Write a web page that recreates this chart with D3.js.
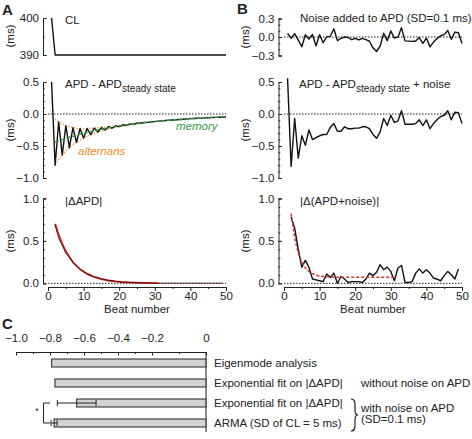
<!DOCTYPE html>
<html><head><meta charset="utf-8">
<script src="https://cdn.jsdelivr.net/npm/d3@7"></script>
<style>
body{margin:0;background:#fff}
text{font-family:"Liberation Sans",Arial,sans-serif;fill:#222}
</style>
</head><body>
<svg id="chart" width="472" height="439"></svg>
<script>
// ---------------- DATA ----------------
const clBeats = [1, 2, 50];
const clValues = [400, 390, 390];

const apdBeats = d3.range(1, 51);
const apdValues = [0.50,-0.800,-0.125,-0.642,-0.183,-0.527,-0.215,-0.441,-0.226,-0.376,
  -0.228,-0.324,-0.221,-0.283,-0.212,-0.250,-0.199,-0.222,-0.186,-0.198,
  -0.172,-0.179,-0.158,-0.161,-0.145,-0.145,-0.133,-0.131,-0.121,-0.119,
  -0.112,-0.107,-0.102,-0.098,-0.093,-0.089,-0.085,-0.081,-0.077,-0.073,
  -0.070,-0.067,-0.064,-0.061,-0.058,-0.055,-0.053,-0.050,-0.048,-0.046];

const memoryBeats = d3.range(2, 51);
const memoryValues = [-0.440,-0.420,-0.400,-0.382,-0.364,-0.348,-0.332,-0.316,-0.302,-0.288,
  -0.275,-0.262,-0.250,-0.239,-0.228,-0.217,-0.207,-0.198,-0.188,-0.180,
  -0.172,-0.164,-0.156,-0.149,-0.142,-0.136,-0.129,-0.123,-0.118,-0.112,
  -0.107,-0.102,-0.098,-0.093,-0.089,-0.085,-0.081,-0.077,-0.073,-0.070,
  -0.067,-0.064,-0.061,-0.058,-0.055,-0.053,-0.050,-0.048,-0.046];

const envBeats = d3.range(2, 27);
const envUpper = [-0.080,-0.125,-0.158,-0.183,-0.201,-0.215,-0.223,-0.226,-0.228,-0.228,
  -0.226,-0.221,-0.217,-0.212,-0.206,-0.199,-0.192,-0.186,-0.178,-0.172,
  -0.165,-0.158,-0.151,-0.145,-0.139];
const envLower = [-0.800,-0.715,-0.642,-0.581,-0.527,-0.481,-0.441,-0.406,-0.376,-0.348,
  -0.324,-0.303,-0.283,-0.266,-0.250,-0.235,-0.222,-0.210,-0.198,-0.188,
  -0.179,-0.170,-0.161,-0.153,-0.145];

const dBeats = d3.range(2, 50);
const dApdValues = [0.69,0.53,0.45,0.35,0.31,0.24,0.21,0.16,0.145,0.11,
  0.10,0.075,0.07,0.05,0.048,0.033,0.033,0.02,0.022,0.013,
  0.015,0.008,0.01,0.005,0.007,0.003,0.005,0.002,0.003,0.001,
  0.001,0.001,0.001,0.001,0.001,0.001,0.001,0.001,0.001,0.001,
  0.001,0.001,0.001,0.001,0.001,0.001,0.001,0.001];

const fitBeats = d3.range(2, 32);
const dApdFit = [0.70,0.57,0.465,0.38,0.31,0.25,0.205,0.167,0.136,0.111,
  0.09,0.074,0.06,0.049,0.04,0.033,0.027,0.022,0.018,0.015,
  0.012,0.01,0.008,0.0065,0.0053,0.0043,0.0035,0.0029,0.0024,0.002];

const noiseValues = [0.060,-0.020,0.055,-0.050,-0.157,0.037,-0.035,0.041,-0.144,0.036,
  -0.092,0.004,0.011,0.133,-0.058,-0.020,-0.001,-0.008,-0.044,-0.022,
  -0.048,-0.021,-0.042,-0.069,-0.175,-0.235,-0.147,0.061,-0.059,0.099,
  -0.018,-0.003,0.152,-0.062,-0.067,-0.071,-0.065,-0.009,-0.103,-0.017,
  -0.160,-0.083,-0.026,0.021,0.038,0.105,-0.037,0.080,0.068,-0.104];

const apdNoiseValues = [0.56,-0.82,-0.07,-0.69,-0.34,-0.49,-0.25,-0.40,-0.37,-0.34,
  -0.32,-0.32,-0.21,-0.15,-0.27,-0.27,-0.20,-0.23,-0.23,-0.22,
  -0.22,-0.20,-0.20,-0.23,-0.32,-0.38,-0.28,-0.07,-0.18,-0.02,
  -0.13,-0.11,0.05,-0.16,-0.16,-0.16,-0.15,-0.09,-0.18,-0.09,
  -0.23,-0.15,-0.09,-0.04,-0.02,0.05,-0.09,0.03,0.02,-0.15];

const dApdNoiseValues = [0.78,0.65,0.40,0.19,0.27,0.19,0.05,0.04,0.03,0.02,
  0.11,0.07,0.12,0.00,0.08,0.05,0.01,0.02,0.02,0.02,
  0.01,0.05,0.12,0.09,0.13,0.22,0.16,0.19,0.14,0.03,
  0.18,0.21,0.01,0.01,0.02,0.12,0.17,0.12,0.16,0.12,
  0.06,0.05,0.03,0.09,0.14,0.10,0.05,0.17];

const dApdNoiseFit = [0.82,0.535,0.358,0.249,0.181,0.139,0.113,0.096,0.086,0.080,
  0.076,0.074,0.072,0.0715,0.071,0.070,0.070,0.070,0.070,0.070,
  0.070,0.070,0.070,0.070,0.070,0.070,0.070,0.070,0.070,0.070];

const xTicks = [0, 10, 20, 30, 40, 50];

const cMethods = ["Eigenmode analysis", "Exponential fit on |\u0394APD|", "Exponential fit on |\u0394APD|", "ARMA (SD of CL = 5 ms)"];
const cValues = [-0.790, -0.771, -0.643, -0.776];
const cErrors = [0, 0, 0.114, 0.018];
const cTicks = [-1.0, -0.8, -0.6, -0.4, -0.2, 0];

// ---------------- DRAW ----------------
const svg = d3.select("#chart");
const FS = 11.5;

function txt(x, y, s, opts = {}) {
  const t = svg.append("text").attr("x", x).attr("y", y).text(s)
    .attr("font-size", opts.size || FS);
  if (opts.anchor) t.attr("text-anchor", opts.anchor);
  if (opts.weight) t.attr("font-weight", opts.weight);
  if (opts.fill) t.style("fill", opts.fill);
  if (opts.style) t.attr("font-style", opts.style);
  return t;
}

function yAxis(x, scale, majors, minors, fmt) {
  const g = svg.append("g").attr("transform", `translate(${x},0)`);
  g.call(d3.axisLeft(scale).tickValues(minors).tickSize(-1.8).tickSizeOuter(0).tickFormat(""));
  g.select(".domain").remove();
  const g2 = svg.append("g").attr("transform", `translate(${x},0)`);
  g2.call(d3.axisLeft(scale).tickValues(majors).tickSizeInner(-3.5).tickSizeOuter(-3.5).tickPadding(4).tickFormat(fmt));
  g2.selectAll("text").attr("font-size", FS).style("font-family", '"Liberation Sans",Arial,sans-serif');
  [g, g2].forEach(gg => gg.selectAll("line,path").attr("stroke", "#222"));
}

function xAxis(y, scale) {
  const g = svg.append("g").attr("transform", `translate(0,${y})`);
  g.call(d3.axisBottom(scale).tickValues(d3.range(5, 50, 10)).tickSize(2).tickSizeOuter(0).tickFormat(""));
  g.select(".domain").remove();
  const g2 = svg.append("g").attr("transform", `translate(0,${y})`);
  g2.call(d3.axisBottom(scale).tickValues(xTicks).tickSize(4).tickSizeOuter(0).tickPadding(1).tickFormat(d3.format("d")));
  g2.selectAll("text").attr("font-size", FS).style("font-family", '"Liberation Sans",Arial,sans-serif');
  [g, g2].forEach(gg => gg.selectAll("line,path").attr("stroke", "#222"));
}

function zeroLine(xs, ys) {
  svg.append("line").attr("x1", xs(0)).attr("x2", xs(50)).attr("y1", ys(0)).attr("y2", ys(0))
    .attr("stroke", "#222").attr("stroke-width", 1).attr("stroke-dasharray", "1.5,1.5");
}

function series(xs, ys, bx, vals, stroke, width, dash) {
  const line = d3.line().x((d, i) => xs(bx[i])).y(d => ys(d));
  const p = svg.append("path").datum(vals).attr("d", line).attr("fill", "none")
    .attr("stroke", stroke).attr("stroke-width", width).attr("stroke-linejoin", "round");
  if (dash) p.attr("stroke-dasharray", dash);
  return p;
}

function ylabel(x, y) {
  svg.append("text").attr("transform", `translate(${x},${y}) rotate(-90)`)
    .attr("text-anchor", "middle").attr("font-size", FS).text("(ms)");
}

const xA = d3.scaleLinear().domain([0, 50]).range([48, 226]);
const xB = d3.scaleLinear().domain([0, 50]).range([284, 462]);

const yCL = d3.scaleLinear().domain([390, 400]).range([55, 18]);
const yNoise = d3.scaleLinear().domain([-0.3, 0.3]).range([55.5, 18.5]);
const yApd = d3.scaleLinear().domain([-1, 0.5]).range([178, 82]);
const yD = d3.scaleLinear().domain([0, 1]).range([283.3, 198.4]);
const f1 = d3.format(".1f");

txt(2, 15, "A", {size: 15, weight: "bold"});
txt(237, 14, "B", {size: 15, weight: "bold"});
txt(2, 329, "C", {size: 15, weight: "bold"});

// ===== Panel A =====
yAxis(43, yCL, [390, 400], [395], d3.format("d"));
series(xA, yCL, clBeats, clValues, "#111", 1.4);
ylabel(14, 36);
txt(65, 24, "CL");

yAxis(43, yApd, [-1, -0.5, 0, 0.5], d3.range(-10, 6).map(v => v / 10), v => f1(v));
zeroLine(xA, yApd);
series(xA, yApd, envBeats, envUpper, "#f39a3e", 1.4, "1.4,1.6");
series(xA, yApd, envBeats, envLower, "#f39a3e", 1.4, "1.4,1.6");
series(xA, yApd, apdBeats, apdValues, "#111", 1.4);
series(xA, yApd, memoryBeats, memoryValues, "#2e9a44", 1.4, "4,2");
ylabel(14, 130);
{
  const t = txt(65, 88, "APD - APD");
  t.append("tspan").attr("font-size", 10).attr("dy", 4).text("steady state");
}
txt(78, 155, "alternans", {fill: "#f08a2e", style: "italic"});
txt(176, 130, "memory", {fill: "#2e9a44", style: "italic"});

yAxis(43, yD, [0, 0.5, 1], d3.range(0, 11).map(v => v / 10), v => f1(v));
zeroLine(xA, yD);
series(xA, yD, fitBeats, dApdFit, "#d42020", 1.8);
series(xA, yD, dBeats, dApdValues, "#3a0a0a", 0.8);
xAxis(287, xA);
ylabel(14, 241);
txt(65, 205, "|\u0394APD|");
txt(137, 313, "Beat number", {anchor: "middle"});

// ===== Panel B =====
yAxis(278.5, yNoise, [-0.3, 0, 0.3], d3.range(-3, 4).map(v => v / 10), v => f1(v));
zeroLine(xB, yNoise);
series(xB, yNoise, apdBeats, noiseValues, "#111", 1.4);
ylabel(249, 37);
txt(300, 22, "Noise added to APD (SD=0.1 ms)");

yAxis(278.5, yApd, [-1, -0.5, 0, 0.5], d3.range(-10, 6).map(v => v / 10), v => f1(v));
zeroLine(xB, yApd);
series(xB, yApd, apdBeats, apdNoiseValues, "#111", 1.4);
ylabel(249, 130);
{
  const t = txt(299, 88, "APD - APD");
  t.append("tspan").attr("font-size", 10).attr("dy", 4).text("steady state");
  t.append("tspan").attr("dy", -4).text(" + noise");
}

yAxis(278.5, yD, [0, 0.5, 1], d3.range(0, 11).map(v => v / 10), v => f1(v));
zeroLine(xB, yD);
series(xB, yD, dBeats, dApdNoiseValues, "#111", 1.4);
series(xB, yD, fitBeats, dApdNoiseFit, "#e03030", 1.5, "3,2");
xAxis(287, xB);
ylabel(249, 241);
txt(300, 205, "|\u0394(APD+noise)|");
txt(373, 313, "Beat number", {anchor: "middle"});

// ===== Panel C =====
// piecewise axis as laid out in the original figure
const xC = d3.scaleLinear().domain([-1, -0.2, 0]).range([16, 152, 206]);
const yC = d3.scaleBand().domain(d3.range(cMethods.length)).range([353, 433]).paddingInner(0.6).paddingOuter(0.3);
{
  const g = svg.append("g").attr("transform", "translate(0,352)");
  g.call(d3.axisTop(xC).tickValues(d3.range(-10, 1).map(v => v / 10)).tickSize(-2).tickSizeOuter(0).tickFormat(""));
  g.select(".domain").remove();
  const g2 = svg.append("g").attr("transform", "translate(0,352)");
  g2.call(d3.axisTop(xC).tickValues(cTicks).tickSizeInner(-3.5).tickSizeOuter(0).tickPadding(10).tickFormat(v => v === 0 ? "0" : f1(v)));
  g2.selectAll("text").attr("font-size", FS).style("font-family", '"Liberation Sans",Arial,sans-serif');
  [g, g2].forEach(gg => gg.selectAll("line,path").attr("stroke", "#222"));
}
svg.append("line").attr("x1", xC(0)).attr("x2", xC(0)).attr("y1", 352).attr("y2", 432).attr("stroke", "#222");
svg.selectAll(".bar").data(cValues).enter().append("rect")
  .attr("x", d => xC(d)).attr("width", d => xC(0) - xC(d))
  .attr("y", (d, i) => yC(i)).attr("height", yC.bandwidth())
  .attr("fill", "#d3d3d3").attr("stroke", "#222").attr("stroke-width", 1);
cValues.forEach((v, i) => {
  const e = cErrors[i];
  if (!e) return;
  const cy = yC(i) + yC.bandwidth() / 2;
  svg.append("line").attr("x1", xC(v - e)).attr("x2", xC(v + e)).attr("y1", cy).attr("y2", cy).attr("stroke", "#222");
  [v - e, v + e].forEach(c => svg.append("line").attr("x1", xC(c)).attr("x2", xC(c))
    .attr("y1", cy - 3).attr("y2", cy + 3).attr("stroke", "#222"));
});
cMethods.forEach((m, i) => txt(214, yC(i) + yC.bandwidth() / 2 + 4, m));
txt(361, 387, "without noise on APD");
txt(361, 412, "with noise on APD");
txt(361, 423, "(SD=0.1 ms)");
svg.append("path").attr("d", "M351,399 C356,399 355,405 355,410 C355,413 356,415 358,415 C356,415 355,417 355,420 C355,425 356,431 351,431")
  .attr("fill", "none").attr("stroke", "#222").attr("stroke-width", 1.2);
svg.append("path").attr("d", `M50,${yC(2) + 4} H43.5 V${yC(3) + 4} H50`).attr("fill", "none").attr("stroke", "#222");
txt(37, 414, "*", {size: 9, anchor: "middle"});
</script>
</body></html>
